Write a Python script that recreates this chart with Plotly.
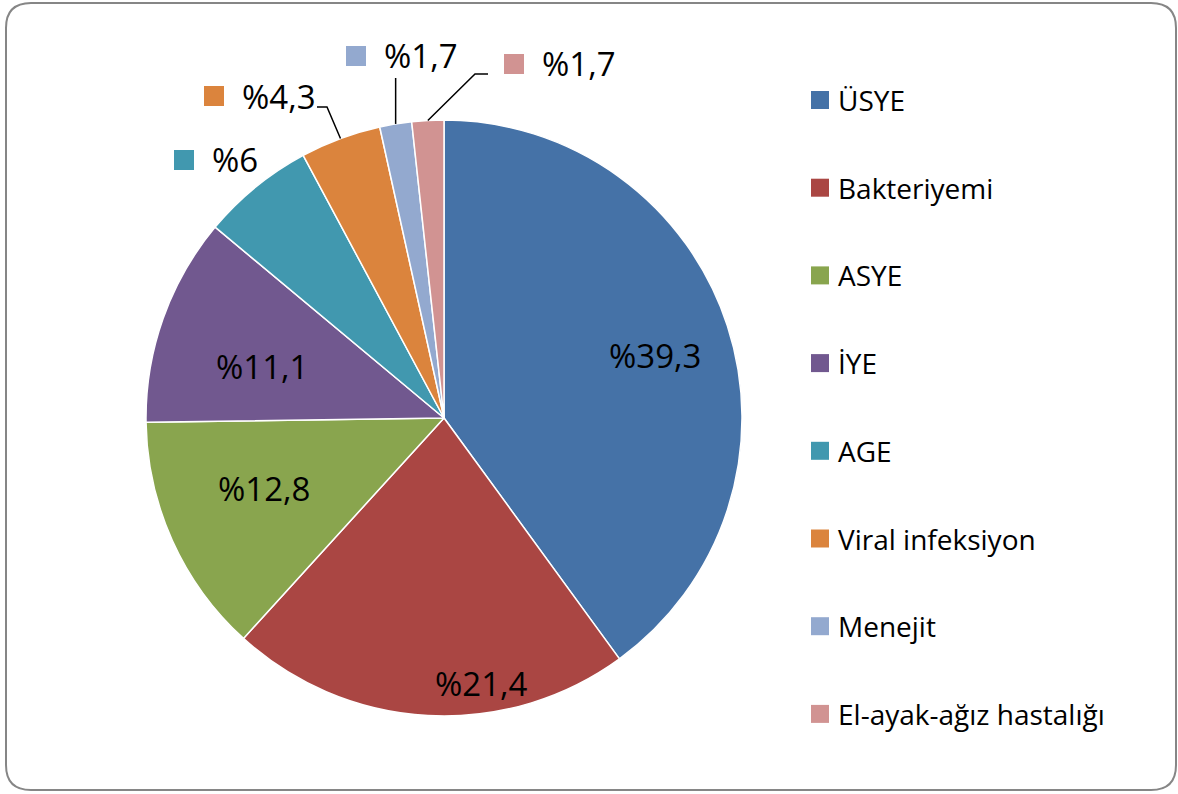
import math
import plotly.graph_objects as go

W, H = 1178, 794

# data
categories = ["ÜSYE", "Bakteriyemi", "ASYE", "İYE", "AGE",
              "Viral infeksiyon", "Menejit", "El-ayak-ağız hastalığı"]
values = [39.3, 21.4, 12.8, 11.1, 6, 4.3, 1.7, 1.7]
value_labels = ["%39,3", "%21,4", "%12,8", "%11,1", "%6", "%4,3", "%1,7", "%1,7"]
colors = ["#4572A7", "#AA4643", "#89A54E", "#71588F", "#4198AF",
          "#DB843D", "#93A9CF", "#D19392"]

# pie geometry in pixels
cx, cy, R = 444, 418, 298
FONT = "Open Sans, Liberation Sans, sans-serif"


def px(x):
    return x / W


def py(y):
    return 1 - y / H


fig = go.Figure()
fig.add_trace(go.Pie(
    labels=categories,
    values=values,
    sort=False,
    direction="clockwise",
    rotation=0,
    textinfo="none",
    marker={"colors": colors, "line": {"color": "white", "width": 1.5}},
    domain={"x": [px(cx - R), px(cx + R)], "y": [py(cy + R), py(cy - R)]},
    showlegend=False,
))

# slice mid angles (clockwise from 12 o'clock)
total = sum(values)
mids = []
acc = 0
for v in values:
    mids.append((acc + v / 2) / total * 360)
    acc += v


def edge_point(i):
    a = math.radians(mids[i])
    return cx + R * math.sin(a), cy - R * math.cos(a)


annotations = []
shapes = []

# inside labels (pixel centres)
inside_pos = {0: (655, 355), 1: (482, 683), 2: (264, 488), 3: (262, 366)}
for i, (x, y) in inside_pos.items():
    annotations.append(dict(x=px(x), y=py(y), xref="paper", yref="paper",
                            text=value_labels[i], showarrow=False,
                            xanchor="center", yanchor="middle",
                            font={"family": FONT, "size": 33, "color": "black"}))

# outside labels: (square left, centre y, text left)
outside_pos = {4: (174, 160, 210), 5: (204, 96, 240), 6: (346, 56, 382), 7: (504, 64, 540)}
SQ = 20
for i, (sx, y, tx) in outside_pos.items():
    shapes.append(dict(type="rect", xref="paper", yref="paper",
                       x0=px(sx), x1=px(sx + SQ), y0=py(y + SQ / 2), y1=py(y - SQ / 2),
                       fillcolor=colors[i], line={"width": 0}))
    annotations.append(dict(x=px(tx), y=py(y), xref="paper", yref="paper",
                            text=value_labels[i], showarrow=False,
                            xanchor="left", yanchor="middle",
                            font={"family": FONT, "size": 33, "color": "black"}))

# leader lines: list of start points then the slice edge
leaders = {5: [(317, 107), (327, 107)], 6: [(395, 78)], 7: [(488, 74), (475, 74)]}
for i, pts in leaders.items():
    ex, ey = edge_point(i)
    if i == 6:
        pts = [(ex, pts[0][1])]
    allpts = pts + [(ex, ey)]
    path = "M " + " L ".join(f"{px(x)},{py(y)}" for x, y in allpts)
    shapes.append(dict(type="path", xref="paper", yref="paper", path=path,
                       line={"color": "black", "width": 1.5}))

# legend drawn manually
leg_x, leg_y0, leg_dy, LSQ = 811, 100, 87.7, 18
for i, name in enumerate(categories):
    y = leg_y0 + i * leg_dy
    shapes.append(dict(type="rect", xref="paper", yref="paper",
                       x0=px(leg_x), x1=px(leg_x + LSQ), y0=py(y + LSQ / 2), y1=py(y - LSQ / 2),
                       fillcolor=colors[i], line={"width": 0}))
    annotations.append(dict(x=px(leg_x + 25), y=py(y), xref="paper", yref="paper",
                            text=name, showarrow=False,
                            xanchor="left", yanchor="middle",
                            font={"family": FONT, "size": 28, "color": "black"}))

# rounded outer border
bx0, by0, bx1, by1, r = 6, 3, 1176, 790, 25
pts = [
    f"M {px(bx0 + r)},{py(by0)}",
    f"L {px(bx1 - r)},{py(by0)}",
    f"Q {px(bx1)},{py(by0)} {px(bx1)},{py(by0 + r)}",
    f"L {px(bx1)},{py(by1 - r)}",
    f"Q {px(bx1)},{py(by1)} {px(bx1 - r)},{py(by1)}",
    f"L {px(bx0 + r)},{py(by1)}",
    f"Q {px(bx0)},{py(by1)} {px(bx0)},{py(by1 - r)}",
    f"L {px(bx0)},{py(by0 + r)}",
    f"Q {px(bx0)},{py(by0)} {px(bx0 + r)},{py(by0)} Z",
]
shapes.append(dict(type="path", xref="paper", yref="paper", path=" ".join(pts),
                   line={"color": "#868686", "width": 2}))

fig.update_layout(
    width=W, height=H,
    margin={"l": 0, "r": 0, "t": 0, "b": 0},
    paper_bgcolor="white",
    plot_bgcolor="white",
    shapes=shapes,
    annotations=annotations,
)

# drop the default page margin so the figure sits at the window's corner
fig.write_html("out.html", config={"displayModeBar": False},
               post_script="document.body.style.margin='0';document.body.style.overflow='hidden';")
